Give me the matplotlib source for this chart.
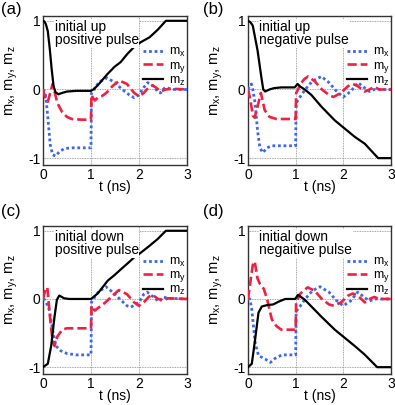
import matplotlib
matplotlib.use("Agg")
import matplotlib.pyplot as plt

plt.rcParams['font.family'] = ['Liberation Sans', 'DejaVu Sans']
plt.rcParams['mathtext.fontset'] = 'custom'
plt.rcParams['mathtext.rm'] = 'Liberation Sans'
plt.rcParams['mathtext.it'] = 'Liberation Sans'

# ---------------- data (time in ns, magnetization components) ----------------
# panel (a): initial up, positive pulse
a_t_mz = [0, 0.03, 0.06, 0.1, 0.14, 0.18, 0.22, 0.26, 0.32, 0.4, 0.5, 0.7, 1.0, 1.05, 1.14, 1.35, 1.49, 1.62, 1.76, 1.9, 2.04, 2.22, 2.39, 2.56, 3.0]
a_mz = [1, 0.99, 0.95, 0.85, 0.6, 0.3, 0.05, -0.04, -0.07, -0.05, -0.03, -0.02, -0.02, 0.0, 0.06, 0.23, 0.33, 0.4, 0.52, 0.62, 0.69, 0.76, 0.87, 1.0, 1.0]
a_t_mx = [0, 0.05, 0.1, 0.15, 0.2, 0.26, 0.35, 0.45, 0.6, 1.0, 1.01, 1.05, 1.1, 1.2, 1.33, 1.5, 1.65, 1.8, 1.9, 2.0, 2.1, 2.18, 2.3, 2.4, 2.45, 2.5, 2.55, 2.6, 2.7, 3.0]
a_mx = [0, -0.05, -0.4, -0.8, -0.95, -0.97, -0.9, -0.86, -0.85, -0.85, -0.05, -0.03, 0.05, 0.12, 0.17, 0.1, 0.0, -0.08, -0.12, -0.08, 0.03, 0.1, 0.05, -0.04, -0.05, 0.0, 0.03, 0.02, 0.0, 0.0]
a_t_my = [0, 0.05, 0.1, 0.15, 0.2, 0.3, 0.4, 0.5, 0.6, 0.8, 1.0, 1.01, 1.04, 1.08, 1.14, 1.22, 1.32, 1.45, 1.59, 1.75, 1.9, 2.0, 2.1, 2.2, 2.28, 2.35, 2.45, 2.55, 2.7, 3.0]
a_my = [0, -0.12, -0.18, -0.05, 0.08, -0.2, -0.33, -0.4, -0.43, -0.44, -0.44, -0.08, -0.12, -0.16, -0.12, -0.1, -0.05, 0.05, 0.13, 0.08, -0.05, -0.1, -0.05, 0.03, 0.06, 0.03, -0.03, 0.0, 0.01, 0.0]

# panel (b): initial up, negative pulse
b_t_mz = [0, 0.05, 0.1, 0.2, 0.28, 0.32, 0.36, 0.45, 0.55, 0.7, 0.98, 1.04, 1.1, 1.19, 1.33, 1.54, 1.82, 2.03, 2.24, 2.45, 2.73, 3.0]
b_mz = [1, 0.98, 0.93, 0.57, 0.18, 0.0, -0.03, 0.0, 0.02, 0.03, 0.03, 0.08, 0.04, 0.0, -0.08, -0.25, -0.45, -0.57, -0.69, -0.79, -1.0, -1.0]
b_t_mx = [0, 0.04, 0.07, 0.1, 0.15, 0.2, 0.25, 0.31, 0.4, 0.5, 1.0, 1.01, 1.1, 1.2, 1.35, 1.54, 1.7, 1.85, 2.0, 2.15, 2.31, 2.45, 2.55, 2.65, 3.0]
b_mx = [0, 0.06, 0.08, 0.0, -0.2, -0.6, -0.85, -0.92, -0.85, -0.82, -0.82, -0.2, -0.1, 0.0, 0.12, 0.19, 0.1, -0.02, -0.11, -0.03, 0.1, 0.02, -0.03, 0.0, 0.0]
b_t_my = [0, 0.05, 0.1, 0.14, 0.2, 0.27, 0.35, 0.45, 0.6, 1.0, 1.01, 1.05, 1.1, 1.18, 1.26, 1.4, 1.55, 1.7, 1.79, 1.95, 2.1, 2.2, 2.3, 2.45, 2.55, 2.65, 2.75, 3.0]
b_my = [0, -0.15, -0.38, -0.41, -0.25, -0.05, -0.3, -0.4, -0.43, -0.43, -0.05, 0.0, 0.08, 0.15, 0.19, 0.12, 0.0, -0.08, -0.11, -0.05, 0.05, 0.08, 0.05, -0.03, 0.0, 0.04, 0.0, 0.0]

# panel (c): initial down, positive pulse
c_t_mz = [0, 0.1, 0.17, 0.24, 0.29, 0.34, 0.44, 0.55, 1.0, 1.14, 1.35, 1.49, 1.63, 1.76, 1.9, 2.04, 2.22, 2.39, 2.56, 3.0]
c_mz = [-1, -0.95, -0.69, -0.26, -0.01, 0.05, 0.01, 0.0, 0.0, 0.08, 0.27, 0.35, 0.44, 0.52, 0.61, 0.68, 0.78, 0.88, 1.0, 1.0]
c_t_mx = [0, 0.05, 0.13, 0.2, 0.27, 0.37, 0.5, 0.7, 1.0, 1.01, 1.05, 1.15, 1.31, 1.45, 1.6, 1.75, 1.83, 2.0, 2.1, 2.17, 2.3, 2.4, 2.45, 2.5, 2.6, 3.0]
c_mx = [0, -0.02, -0.16, -0.45, -0.69, -0.76, -0.8, -0.82, -0.82, -0.05, 0.0, 0.1, 0.18, 0.1, 0.0, -0.1, -0.12, -0.05, 0.07, 0.1, 0.03, -0.03, -0.02, 0.03, 0.01, 0.0]
c_t_my = [0, 0.05, 0.09, 0.15, 0.2, 0.24, 0.3, 0.4, 0.5, 1.0, 1.01, 1.04, 1.08, 1.15, 1.3, 1.45, 1.58, 1.75, 1.9, 2.0, 2.1, 2.2, 2.28, 2.4, 2.5, 2.6, 3.0]
c_my = [0, 0.14, 0.17, -0.3, -0.62, -0.69, -0.55, -0.45, -0.43, -0.43, -0.1, -0.14, -0.17, -0.13, -0.05, 0.05, 0.13, 0.07, -0.05, -0.1, -0.05, 0.03, 0.06, 0.0, -0.02, 0.01, 0.0]

# panel (d): initial down, negative pulse
d_t_mz = [0, 0.08, 0.15, 0.22, 0.29, 0.4, 0.53, 0.64, 0.78, 0.99, 1.05, 1.19, 1.33, 1.54, 1.82, 2.03, 2.24, 2.44, 2.71, 3.0]
d_mz = [-1, -0.95, -0.59, -0.2, -0.11, -0.09, -0.08, -0.04, 0.0, 0.0, 0.06, -0.01, -0.11, -0.26, -0.45, -0.57, -0.69, -0.81, -1.0, -1.0]
d_t_mx = [0, 0.04, 0.08, 0.15, 0.22, 0.36, 0.47, 0.57, 0.71, 1.0, 1.01, 1.1, 1.2, 1.35, 1.51, 1.7, 1.85, 2.0, 2.15, 2.3, 2.45, 2.55, 2.65, 3.0]
d_mx = [0, 0.0, -0.16, -0.64, -0.83, -0.88, -0.93, -0.87, -0.82, -0.82, -0.18, -0.1, 0.0, 0.12, 0.18, 0.1, -0.02, -0.1, -0.03, 0.1, 0.02, -0.03, 0.0, 0.0]
d_t_my = [0, 0.05, 0.1, 0.14, 0.2, 0.25, 0.33, 0.4, 0.45, 0.5, 0.6, 0.7, 1.0, 1.01, 1.1, 1.25, 1.4, 1.55, 1.7, 1.8, 1.95, 2.1, 2.2, 2.3, 2.45, 2.55, 2.65, 2.75, 3.0]
d_my = [0, 0.25, 0.5, 0.55, 0.3, 0.22, 0.15, 0.0, -0.15, -0.3, -0.4, -0.45, -0.45, -0.05, 0.08, 0.17, 0.12, 0.0, -0.08, -0.1, -0.05, 0.05, 0.08, 0.05, -0.05, 0.0, 0.03, 0.0, 0.0]

panel_labels = ['(a)', '(b)', '(c)', '(d)']
panel_texts = ['initial up\npositive pulse', 'initial up\nnegative pulse',
               'initial down\npositive pulse', 'initial down\nnegaitive pulse']
x_ticks = [0, 1, 2, 3]
y_ticks = [-1, 0, 1]
y_tick_labels = ['-1', '0', '1']

panels = [
    (a_t_mx, a_mx, a_t_my, a_my, a_t_mz, a_mz),
    (b_t_mx, b_mx, b_t_my, b_my, b_t_mz, b_mz),
    (c_t_mx, c_mx, c_t_my, c_my, c_t_mz, c_mz),
    (d_t_mx, d_mx, d_t_my, d_my, d_t_mz, d_mz),
]

W, H = 395, 405
fig = plt.figure(figsize=(W / 100, H / 100), dpi=100)

# axes rectangles in pixel coords (left, top, right, bottom)
rects = [(43, 16, 187, 165), (248, 16, 391, 165),
         (43, 226, 187, 374), (248, 226, 391, 374)]
label_pos = [(1, 2), (203, 2), (1, 204), (203, 204)]

for i, (r, data) in enumerate(zip(rects, panels)):
    l, t, rr, b = r
    ax = fig.add_axes([l / W, 1 - b / H, (rr - l) / W, (b - t) / H])
    tx, mx, ty, my, tz, mz = data
    ax.plot(tx, mx, color='#3a66f0', linestyle=(0, (1, 1)), linewidth=2.0, label=r'm$_\mathregular{x}$', zorder=3)
    ax.plot(ty, my, color='#f02040', linestyle=(0, (3.5, 1.5)), linewidth=1.9, label=r'm$_\mathregular{y}$', zorder=3)
    ax.plot(tz, mz, color='black', linestyle='-', linewidth=1.6, label=r'm$_\mathregular{z}$', zorder=4)
    ax.set_xlim(0, 3)
    ax.set_ylim(-1.1, 1.07)
    ax.set_xticks(x_ticks)
    ax.set_yticks(y_ticks)
    ax.set_yticklabels(y_tick_labels)
    ax.tick_params(length=0, labelsize=10, pad=2)
    ax.grid(True, color='#888888', linestyle=(0, (1, 1)), linewidth=0.6)
    ax.set_axisbelow(True)
    for s in ax.spines.values():
        s.set_color('#333333')
        s.set_linewidth(1.0)
    ax.set_xlabel('t (ns)', fontsize=10, labelpad=-1)
    ax.set_ylabel(r'm$_\mathregular{x}$, m$_\mathregular{y}$, m$_\mathregular{z}$', fontsize=10.5)
    ax.yaxis.set_label_coords(-0.16, 0.57)
    ax.text(0.08, 0.975, panel_texts[i], transform=ax.transAxes, ha='left', va='top',
            fontsize=10, linespacing=0.95, zorder=5,
            bbox=dict(facecolor='white', edgecolor='none', pad=0.5))
    leg = ax.legend(loc='upper right', bbox_to_anchor=(1.0, 0.805), fontsize=9, frameon=False,
                    handlelength=1.6, handletextpad=0.5,
                    labelspacing=0.0, borderpad=0.1, borderaxespad=0.0)
    leg.set_zorder(6)
    lx, ly = label_pos[i]
    fig.text(lx / W, 1 - ly / H, panel_labels[i], ha='left', va='top', fontsize=12)

fig.savefig('out.png', dpi=100)
